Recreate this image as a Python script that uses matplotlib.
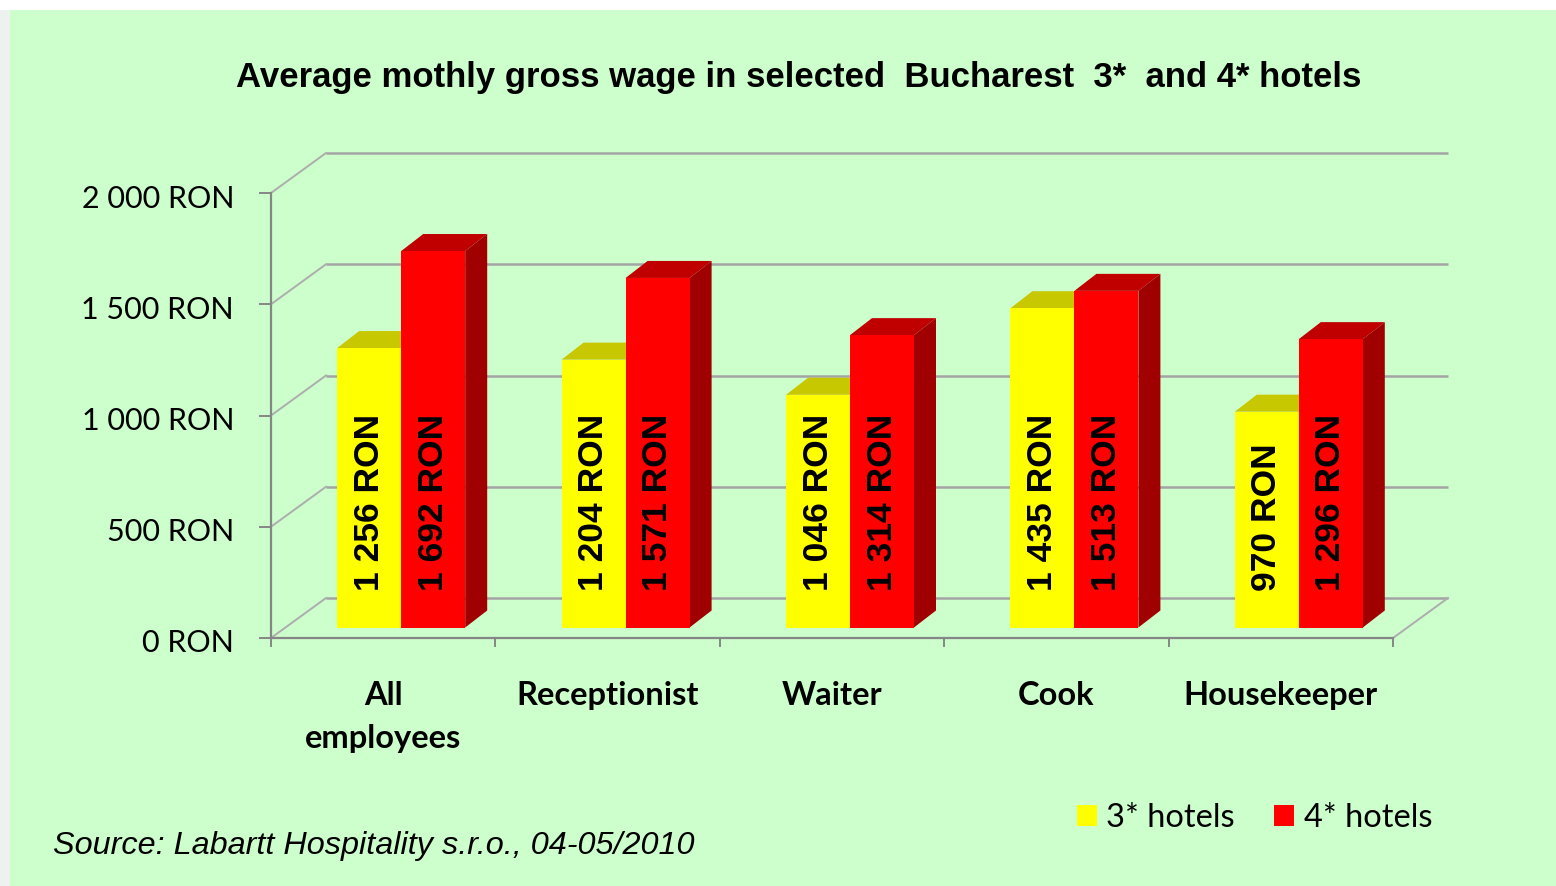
import matplotlib
matplotlib.use('Agg')
import matplotlib.pyplot as plt
import matplotlib.transforms as mtransforms
from matplotlib.patches import Polygon, Rectangle

# Average monthly gross wage [RON]
categories = ['All\nemployees', 'Receptionist', 'Waiter', 'Cook', 'Housekeeper']
wage_3star = [1256, 1204, 1046, 1435, 970]
wage_4star = [1692, 1571, 1314, 1513, 1296]
series_names = ['3* hotels', '4* hotels']
y_ticks = [0, 500, 1000, 1500, 2000]


def ron(v):
    return f'{v:,.0f}'.replace(',', ' ') + ' RON'


W, H = 1556, 886
fig = plt.figure(figsize=(W / 100, H / 100), dpi=100)
fig.patch.set_facecolor('white')
fig.patches.append(Rectangle((0, 0), 10 / W, 1 - 10 / H, transform=fig.transFigure,
                             facecolor='#EEF2EE', edgecolor='none', zorder=-5))
fig.patches.append(Rectangle((10 / W, 0), 1, 1 - 10 / H, transform=fig.transFigure,
                             facecolor='#CCFFCC', edgecolor='none', zorder=-5))

# front plane of the 3d box: x 271..1393 px, y 193..638 px
ax = fig.add_axes([271 / W, (H - 638) / H, 1122 / W, 445 / H])
ax.patch.set_visible(False)
ax.set_xlim(-0.5, 4.5)
ax.set_ylim(0, 2000)

px_x = 1122 / 5      # px per category
px_y = 445 / 2000    # px per RON
back_dx, back_dy = 55 / px_x, 40 / px_y      # back wall shift
bar_ox, bar_oy = 18 / px_x, 10.5 / px_y      # bar row shift
depth_dx, depth_dy = 22 / px_x, 17 / px_y    # bar depth
bw = 64 / px_x

grid_c = '#A4A4A4'
axis_c = '#868686'

# back wall gridlines + side wall diagonals
for v in y_ticks:
    ax.plot([-0.5 + back_dx, 4.5 + back_dx], [v + back_dy, v + back_dy],
            color=grid_c, lw=1.8, clip_on=False, zorder=1, solid_capstyle='butt')
    ax.plot([-0.5, -0.5 + back_dx], [v, v + back_dy], color='#ADADAD', lw=1.4,
            clip_on=False, zorder=1)
ax.plot([4.5, 4.5 + back_dx], [0, back_dy], color='#ADADAD', lw=1.4, clip_on=False, zorder=1)

faces = [('#FFFF00', '#C8C800', '#A8A800'), ('#FF0000', '#C00000', '#A00000')]
handles = []
for j, (vals, name) in enumerate(zip([wage_3star, wage_4star], series_names)):
    front, top, side = faces[j]
    xs = [i + (j - 0.5) * bw + bar_ox for i in range(len(vals))]
    z = 2 + 2 * j
    bars = ax.bar(xs, vals, width=bw, bottom=bar_oy, color=front, label=name,
                  zorder=z + 1, clip_on=False)
    handles.append(bars)
    for x, v in zip(xs, vals):
        x0, x1, h = x - bw / 2, x + bw / 2, bar_oy + v
        ax.add_patch(Polygon([(x0, h), (x1, h), (x1 + depth_dx, h + depth_dy),
                              (x0 + depth_dx, h + depth_dy)], closed=True,
                             facecolor=top, edgecolor='none', zorder=z, clip_on=False))
        ax.add_patch(Polygon([(x1, bar_oy), (x1 + depth_dx, bar_oy + depth_dy),
                              (x1 + depth_dx, h + depth_dy), (x1, h)], closed=True,
                             facecolor=side, edgecolor='none', zorder=z, clip_on=False))
        ax.text(x, bar_oy + 166, ron(v), rotation=90, ha='center', va='bottom',
                fontsize=25.5, fontweight='bold', family='Liberation Sans', zorder=10)

for s in ['top', 'right']:
    ax.spines[s].set_visible(False)
for s in ['left', 'bottom']:
    ax.spines[s].set_color(axis_c)
    ax.spines[s].set_linewidth(1.6)
    ax.spines[s].set_zorder(1)

ax.set_yticks(y_ticks)
ax.set_yticklabels([ron(v) for v in y_ticks])
ax.tick_params(axis='y', length=8.6, width=1.4, color=axis_c, pad=18,
               labelsize=22, labelfontfamily='Lato')
# labels sit a little below their ticks in the original
shift = mtransforms.ScaledTranslation(0, -3 / 100, fig.dpi_scale_trans)
for t in ax.get_yticklabels():
    t.set_transform(t.get_transform() + shift)

ax.set_xticks([i - 0.5 for i in range(len(categories) + 1)])
ax.set_xticklabels([])
ax.set_xticks(range(len(categories)), minor=True)
ax.set_xticklabels(categories, minor=True, fontsize=23.5, fontweight='bold',
                   family='Lato', linespacing=1.6)
ax.tick_params(axis='x', which='major', length=6.5, width=1.4, color=axis_c)
ax.tick_params(axis='x', which='minor', length=0, pad=31)

fig.text(798.5 / W, 1 - 77 / H,
         'Average mothly gross wage in selected  Bucharest  3*  and 4* hotels',
         ha='center', va='center', fontsize=25, fontweight='bold', family='Liberation Sans')

fig.text(53 / W, 1 - 846 / H, 'Source: Labartt Hospitality s.r.o., 04-05/2010',
         ha='left', va='center', fontsize=23.3, style='italic', family='Liberation Sans')

ax.legend(handles=handles, loc='center left', bbox_to_anchor=(1077 / W, 1 - 818 / H),
          bbox_transform=fig.transFigure, ncol=2, frameon=False, borderpad=0,
          borderaxespad=0, handlelength=0.62, handleheight=0.58, handletextpad=0.28,
          columnspacing=1.2, prop={'family': 'Lato', 'size': 23.5})

fig.savefig('out.png', dpi=100, facecolor=fig.get_facecolor())
